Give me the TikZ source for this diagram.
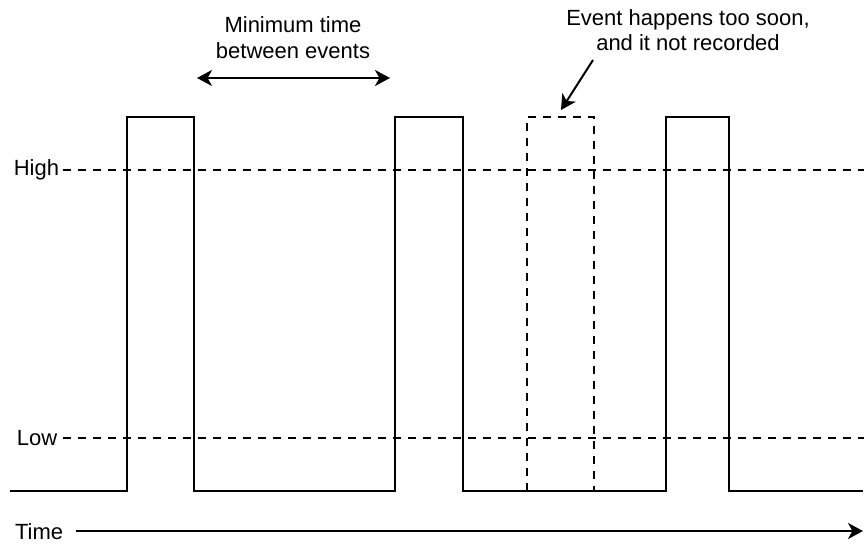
\documentclass[tikz,border=0pt]{standalone}
\usepackage{fontspec}
\setmainfont{Liberation Sans}
\usetikzlibrary{arrows.meta}
\begin{document}
\begin{tikzpicture}[
                x=0.5pt, y=-0.5pt,
                line width=1pt,
                sig/.style={line join=miter},  % solid signal trace
                ghost/.style={dash pattern=on 4pt off 3.5pt},  % missed pulse
                level/.style={dash pattern=on 4pt off 3.5pt},  % threshold lines
                lbl/.style={inner sep=0pt, font=\fontsize{11}{12.75}\selectfont},
                tip/.style={-{Stealth[length=7.5pt, width=8pt, inset=2.2pt]}},
                both/.style={{Stealth[length=7.5pt, width=8pt, inset=2.2pt]}-{Stealth[length=7.5pt, width=8pt, inset=2.2pt]}}
            ]
            % Page frame
            \useasboundingbox (0,0) rectangle (865,544);

            % Threshold labels
            \node[lbl, anchor=east] (high) at (60,170) {High};
            \node[lbl, anchor=west] (low) at (16,438) {Low};

            % Threshold lines
            \coordinate (hi0) at (63,170);
            \coordinate (hi1) at (864,170);
            \coordinate (lo0) at (63,438);
            \coordinate (lo1) at (864,438);
            \draw[level] (hi0) -- (hi1);
            \draw[level] (lo0) -- (lo1);

            % Signal with three recorded pulses
            \draw[sig] (10,491) -- (127,491) -- (127,117) -- (194,117) -- (194,491)
                -- (395,491) -- (395,117) -- (463,117) -- (463,491)
                -- (666,491) -- (666,117) -- (729,117) -- (729,491) -- (863,491);

            % Pulse that comes too soon
            \draw[ghost] (527,491) -- (527,117) -- (594,117) -- (594,491);
            \coordinate (ghosttop) at (561,110);

            % Minimum spacing between events
            \node[lbl, align=center] (mintxt) at (293,37.5) {Minimum time\\between events};
            \coordinate (gapL) at (197,78);
            \coordinate (gapR) at (390,78);
            \draw[both] (gapL) -- (gapR);

            % Note on the missed event
            \node[lbl, align=center] (soon) at (688,30) {Event happens too soon,\\and it not recorded};
            \coordinate (soonfoot) at (593,60);
            \draw[tip] (soonfoot) -- (ghosttop);

            % Time axis
            \node[lbl, anchor=west] (time) at (14,532) {Time};
            \coordinate (t0) at (76,531);
            \coordinate (t1) at (863,531);
            \draw[tip] (t0) -- (t1);

        \end{tikzpicture}
\end{document}
